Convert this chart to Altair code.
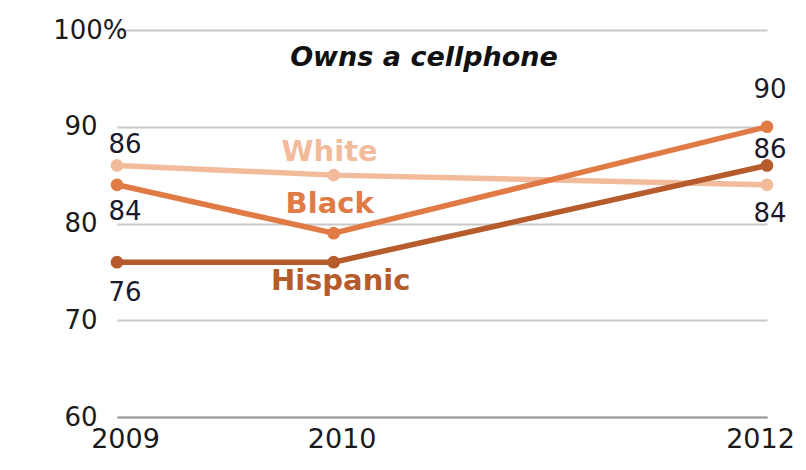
import altair as alt
import pandas as pd

years = [2009, 2010, 2012]
series = ["White", "Black", "Hispanic"]
white = [86, 85, 84]
black = [84, 79, 90]
hispanic = [76, 76, 86]
colors = ["#F2BC9C", "#E07B45", "#B65B2B"]
title_text = "Owns a cellphone"

# value labels shown on the chart: (series, year)
value_label_points = [("White", 2009), ("Black", 2009), ("Hispanic", 2009),
                      ("Black", 2012), ("Hispanic", 2012), ("White", 2012)]
value_label_shift = [-20, 27, 31, -37, -15, 29]
value_label_dx = [8, 8, 8, 3, 3, 3]
name_label_shift_y = [-23, -29, 19]
name_label_shift_x = [-4, -4, 7]

vals = {"White": white, "Black": black, "Hispanic": hispanic}
rows = []
for s in series:
    for yr, v in zip(years, vals[s]):
        rows.append({"series": s, "year": yr, "value": v})
df = pd.DataFrame(rows)

FONT = "DejaVu Sans"

x = alt.X("year:Q", scale=alt.Scale(domain=[2009, 2012], nice=False, zero=False),
          axis=alt.Axis(values=years, format="d", title=None, grid=False, ticks=False,
                        domain=True, domainColor="#9a9a9a", domainWidth=2,
                        labelFontSize=27, labelFont=FONT, labelColor="#1a1a1a",
                        labelPadding=9, labelFlush=False,
                        labelOffset={"condition": {"test": "datum.value == 2012", "value": -7}, "value": 8}))
y = alt.Y("value:Q", scale=alt.Scale(domain=[60, 100], nice=False, zero=False),
          axis=alt.Axis(values=[60, 70, 80, 90, 100], title=None, grid=True,
                        gridColor="#c8c8c8", gridWidth=2, ticks=False, domain=False,
                        labelFontSize=26, labelFont=FONT, labelColor="#1a1a1a",
                        labelExpr="datum.value == 100 ? '100%' : datum.label",
                        labelPadding={"condition": {"test": "datum.value == 100", "value": -10}, "value": 20},
                        labelFlush=False))

color = alt.Color("series:N", scale=alt.Scale(domain=series, range=colors), legend=None)

base = alt.Chart(df)
lines = alt.layer(*[
    base.transform_filter(alt.datum.series == s).mark_line(strokeWidth=5.5, strokeCap="butt").encode(
        x=x, y=y, color=color, order=alt.Order("year:Q"))
    for s in series
])
points = base.mark_point(filled=True, size=160, opacity=1).encode(x=x, y=y, color=color)

value_labels = []
for (s, yr), sh, ddx in zip(value_label_points, value_label_shift, value_label_dx):
    value_labels.append(
        base.transform_filter((alt.datum.series == s) & (alt.datum.year == yr)).mark_text(
            font=FONT, fontSize=26, color="#1a1a2a", baseline="middle", align="center",
            dx=ddx, dy=sh
        ).encode(x=x, y=y, text="value:Q")
    )

name_labels = []
for s, sy, sx in zip(series, name_label_shift_y, name_label_shift_x):
    name_labels.append(
        base.transform_filter((alt.datum.series == s) & (alt.datum.year == 2010)).mark_text(
            font=FONT, fontSize=29, fontWeight="bold", baseline="middle", align="center",
            dx=sx, dy=sy
        ).encode(x=x, y=y, text="series:N", color=color)
    )

title = alt.Chart(pd.DataFrame({"t": [title_text]})).mark_text(
    font=FONT, fontSize=27, fontWeight="bold", fontStyle="italic", color="#111111",
    align="center", baseline="middle"
).encode(x=alt.value(307), y=alt.value(28), text="t:N")

chart = alt.layer(lines, points, *value_labels, *name_labels, title).properties(
    width=650, height=387,
    autosize=alt.AutoSizeParams(type="none"),
    padding={"left": 109, "top": 22, "right": 31, "bottom": 45},
).configure_view(stroke=None)

chart.save("out.html", embed_options={"renderer": "svg", "actions": False})
